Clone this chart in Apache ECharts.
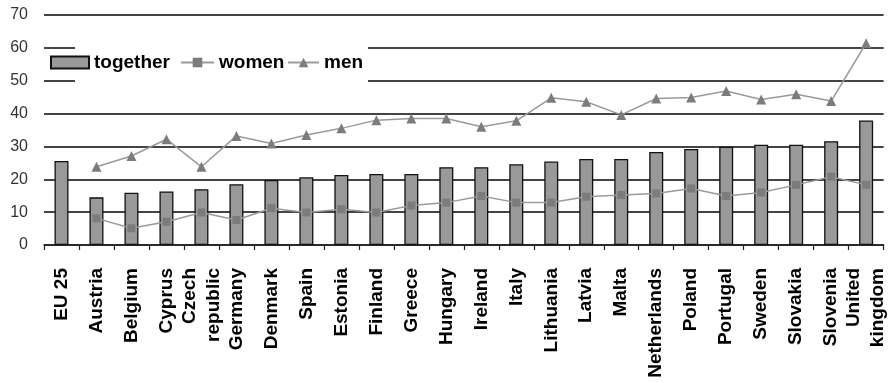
<!DOCTYPE html>
<html>
<head>
<meta charset="utf-8">
<script src="https://cdn.jsdelivr.net/npm/echarts@6/dist/echarts.min.js"></script>
<style>
  html, body { margin: 0; padding: 0; background: #fff; }
  #chart { width: 890px; height: 383px; }
</style>
</head>
<body>
<div id="chart"></div>
<script>
// Country categories along the x axis
const countries = ['EU 25', 'Austria', 'Belgium', 'Cyprus', 'Czech\nrepublic', 'Germany', 'Denmark',
  'Spain', 'Estonia', 'Finland', 'Greece', 'Hungary', 'Ireland', 'Italy', 'Lithuania', 'Latvia',
  'Malta', 'Netherlands', 'Poland', 'Portugal', 'Sweden', 'Slovakia', 'Slovenia', 'United\nkingdom'];

// Values per country (%)
const together = [25.6, 14.5, 15.9, 16.3, 17.0, 18.5, 19.8, 20.6, 21.3, 21.6, 21.6, 23.7, 23.7, 24.6,
  25.4, 26.2, 26.2, 28.3, 29.2, 29.9, 30.5, 30.5, 31.6, 37.9];
const women = [null, 8.1, 5.1, 7.1, 9.9, 7.6, 11.2, 9.9, 10.9, 9.9, 12.0, 12.9, 14.9, 12.9,
  12.9, 14.7, 15.2, 15.7, 17.2, 14.9, 16.0, 18.3, 20.8, 18.3];
const men = [null, 23.8, 27.1, 32.2, 23.8, 33.2, 30.9, 33.5, 35.5, 38.0, 38.5, 38.5, 36.0, 37.8,
  44.8, 43.6, 39.6, 44.6, 44.9, 46.9, 44.3, 45.9, 43.8, 61.4];

// Y axis ticks
const yMin = 0, yMax = 70, yStep = 10;

const chart = echarts.init(document.getElementById('chart'), null, { renderer: 'canvas' });

const legendText = { fontFamily: 'Liberation Sans, Arial, sans-serif', fontWeight: 'bold', fontSize: 19, color: '#000' };

chart.setOption({
  animation: false,
  backgroundColor: '#fff',
  grid: { left: 44, right: 0, top: 15, bottom: 138 },
  graphic: [{
    type: 'rect', z: 1,
    shape: { x: 75, y: 44, width: 293, height: 42 },
    style: { fill: '#fff' }
  }],
  legend: [
    { data: ['together'], left: 50, top: 53, padding: 0, icon: 'rect', itemWidth: 38, itemHeight: 12, textStyle: legendText },
    { data: ['women'], left: 180, top: 53, padding: 0, itemWidth: 33, itemHeight: 12, textStyle: legendText },
    { data: ['men'], left: 287, top: 53, padding: 0, itemWidth: 31, itemHeight: 12, textStyle: legendText }
  ],
  xAxis: {
    type: 'category',
    data: countries,
    boundaryGap: true,
    axisLine: { lineStyle: { color: '#222', width: 1.5 } },
    axisTick: { show: true, length: 5, lineStyle: { color: '#222', width: 1.2 } },
    axisLabel: {
      rotate: 90, interval: 0, margin: 23,
      fontFamily: 'Liberation Sans, Arial, sans-serif', fontWeight: 'bold', fontSize: 19,
      color: '#000', lineHeight: 24
    }
  },
  yAxis: {
    type: 'value',
    min: yMin, max: yMax, interval: yStep,
    axisLine: { show: false },
    axisTick: { show: false },
    axisLabel: {
      margin: 16,
      fontFamily: 'Liberation Sans, Arial, sans-serif', fontSize: 16, color: '#333'
    },
    splitLine: { lineStyle: { color: '#444', width: 2 } }
  },
  series: [
    {
      name: 'together', type: 'bar', data: together, barWidth: 14,
      itemStyle: { color: '#999', borderColor: '#111', borderWidth: 1.3 },
      z: 2
    },
    {
      name: 'women', type: 'line', data: women,
      symbol: 'rect', symbolSize: 8,
      lineStyle: { color: '#9a9a9a', width: 1.5 },
      itemStyle: { color: '#7c7c7c' },
      z: 3
    },
    {
      name: 'men', type: 'line', data: men,
      symbol: 'triangle', symbolSize: 10,
      lineStyle: { color: '#9a9a9a', width: 1.5 },
      itemStyle: { color: '#7c7c7c' },
      z: 3
    }
  ]
});
</script>
</body>
</html>
